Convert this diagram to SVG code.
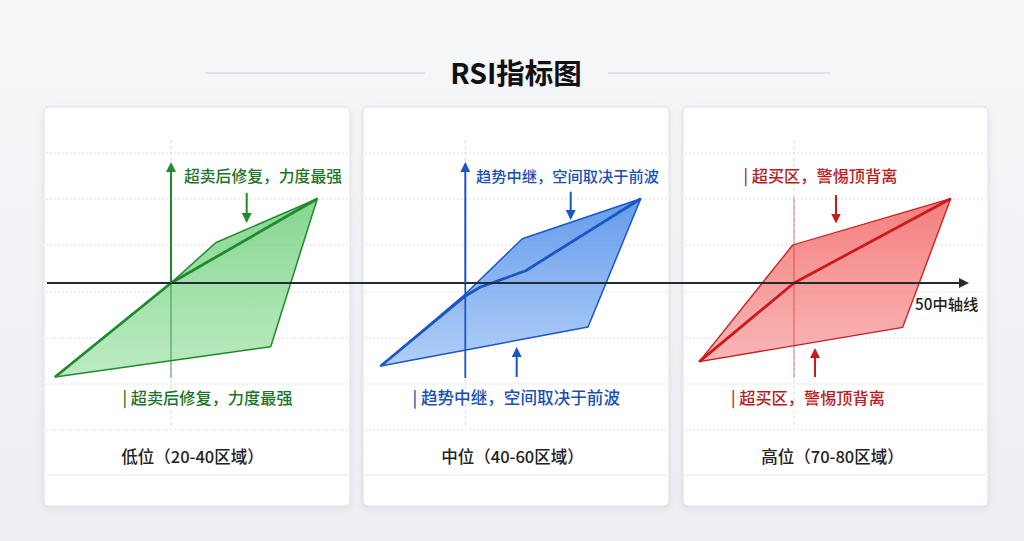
<svg xmlns="http://www.w3.org/2000/svg" width="1024" height="541" viewBox="0 0 1024 541">
<defs>
<style>
text{font-family:"Noto Sans CJK SC","Liberation Sans",sans-serif;}
.panel{fill:#fff;stroke:#dde1e6;stroke-width:1;}
.grid{stroke:#dcdfe3;stroke-width:1;stroke-dasharray:2 2;}
.sep{stroke:#e2e5e9;stroke-width:1.2;}
.vgray{stroke:#d4d7db;stroke-width:1;stroke-dasharray:3 3;}
.lbl{font-size:16.2px;font-weight:500;}
.foot{font-size:16.5px;fill:#222;font-weight:500;}
.g{fill:#1b7428;} .b{fill:#1a4fb3;} .r{fill:#b81a1a;}
</style>
<linearGradient id="bg" x1="0" y1="0" x2="0" y2="1">
<stop offset="0" stop-color="#f6f7f9"/><stop offset="1" stop-color="#eceef2"/>
</linearGradient>
<linearGradient id="fg" x1="0" y1="0" x2="0" y2="1">
<stop offset="0" stop-color="#6fcf7c" stop-opacity="0.85"/><stop offset="1" stop-color="#a6e4ad" stop-opacity="0.75"/>
</linearGradient>
<linearGradient id="fb" x1="0" y1="0" x2="0" y2="1">
<stop offset="0" stop-color="#4a8ae8" stop-opacity="0.85"/><stop offset="1" stop-color="#9cc2f4" stop-opacity="0.8"/>
</linearGradient>
<linearGradient id="fr" x1="0" y1="0" x2="0" y2="1">
<stop offset="0" stop-color="#f26868" stop-opacity="0.85"/><stop offset="1" stop-color="#f8a4a4" stop-opacity="0.8"/>
</linearGradient>
<filter id="sh" x="-10%" y="-10%" width="120%" height="120%">
<feDropShadow dx="0" dy="2" stdDeviation="3" flood-color="#8a94a6" flood-opacity="0.18"/>
</filter>
<marker id="mk" markerWidth="10" markerHeight="10" refX="8" refY="5" orient="auto" markerUnits="userSpaceOnUse"><path d="M0,0 L10,5 L0,10 z" fill="#222a33"/></marker>
<marker id="mg" markerWidth="10" markerHeight="10" refX="8" refY="5" orient="auto" markerUnits="userSpaceOnUse"><path d="M0,0 L10,5 L0,10 z" fill="#1f8a2e"/></marker>
<marker id="mb" markerWidth="10" markerHeight="10" refX="8" refY="5" orient="auto" markerUnits="userSpaceOnUse"><path d="M0,0 L10,5 L0,10 z" fill="#1a56c4"/></marker>
<marker id="mr" markerWidth="10" markerHeight="10" refX="8" refY="5" orient="auto" markerUnits="userSpaceOnUse"><path d="M0,0 L10,5 L0,10 z" fill="#c81c1c"/></marker>
</defs>
<rect width="1024" height="541" fill="url(#bg)"/>
<g id="title">
<line x1="205" y1="73" x2="425" y2="73" stroke="#c9cdd3" stroke-width="1.2"/>
<line x1="608" y1="73" x2="830" y2="73" stroke="#c9cdd3" stroke-width="1.2"/>
<text x="516" y="83.5" text-anchor="middle" font-size="28.5" font-weight="700" fill="#111">RSI指标图</text>
</g>
<g id="panel-low">
<rect class="panel" x="44" y="107" width="306" height="399" rx="5" filter="url(#sh)"/>
<g class="grid-lines">
<line class="grid" x1="46" y1="153" x2="348" y2="153"/><line class="grid" x1="46" y1="199" x2="348" y2="199"/><line class="grid" x1="46" y1="245" x2="348" y2="245"/><line class="grid" x1="46" y1="292" x2="348" y2="292"/><line class="grid" x1="46" y1="338" x2="348" y2="338"/><line class="grid" x1="46" y1="384" x2="348" y2="384"/><line class="grid" x1="46" y1="430" x2="348" y2="430"/>
</g>
<line class="sep" x1="46" y1="475" x2="348" y2="475"/>
<line class="vgray" x1="171" y1="140" x2="171" y2="428"/>
<polygon points="55,377 171,283 215.7,242.7 317.3,198.7 270.7,346.7" fill="url(#fg)" stroke="#1f8a2e" stroke-width="1.5" stroke-linejoin="round"/>
<line x1="171" y1="283" x2="171" y2="378" stroke="#1f8a2e" stroke-width="1.5" opacity="0.55"/>
<polyline points="55,377 171,283 317.3,198.7" fill="none" stroke="#1f8a2e" stroke-width="2.8" stroke-linejoin="round"/>
<text class="lbl g" x="184" y="181.5" style="font-size:15.8px">超卖后修复，力度最强</text>
<text class="lbl g" x="122.5" y="403.5">| 超卖后修复，力度最强</text>
<text class="foot" x="192.5" y="462.5" text-anchor="middle">低位（20-40区域）</text>
</g>
<g id="panel-mid">
<rect class="panel" x="363" y="107" width="306" height="399" rx="5" filter="url(#sh)"/>
<g class="grid-lines">
<line class="grid" x1="365" y1="153" x2="667" y2="153"/><line class="grid" x1="365" y1="199" x2="667" y2="199"/><line class="grid" x1="365" y1="245" x2="667" y2="245"/><line class="grid" x1="365" y1="292" x2="667" y2="292"/><line class="grid" x1="365" y1="338" x2="667" y2="338"/><line class="grid" x1="365" y1="384" x2="667" y2="384"/><line class="grid" x1="365" y1="430" x2="667" y2="430"/>
</g>
<line class="sep" x1="365" y1="475" x2="667" y2="475"/>
<line class="vgray" x1="465.3" y1="140" x2="465.3" y2="428"/>
<polygon points="380.7,366 465.3,294 522.3,238.7 640.7,198.7 588,327" fill="url(#fb)" stroke="#1a56c4" stroke-width="1.5" stroke-linejoin="round"/>
<line x1="465.3" y1="283" x2="465.3" y2="378" stroke="#1a56c4" stroke-width="1.8"/>
<polyline points="380.7,366 465.3,296 480,287.3 525.7,270.7 640.7,198.7" fill="none" stroke="#1a56c4" stroke-width="2.8" stroke-linejoin="round"/>
<text class="lbl b" x="476" y="181.5" style="font-size:15.25px">趋势中继，空间取决于前波</text>
<text class="lbl b" x="412.5" y="403.5" style="font-size:16.6px">| 趋势中继，空间取决于前波</text>
<text class="foot" x="512.5" y="462.5" text-anchor="middle">中位（40-60区域）</text>
</g>
<g id="panel-high">
<rect class="panel" x="683" y="107" width="305" height="399" rx="5" filter="url(#sh)"/>
<g class="grid-lines">
<line class="grid" x1="685" y1="153" x2="986" y2="153"/><line class="grid" x1="685" y1="199" x2="986" y2="199"/><line class="grid" x1="685" y1="245" x2="986" y2="245"/><line class="grid" x1="685" y1="292" x2="986" y2="292"/><line class="grid" x1="685" y1="338" x2="986" y2="338"/><line class="grid" x1="685" y1="384" x2="986" y2="384"/><line class="grid" x1="685" y1="430" x2="986" y2="430"/>
</g>
<line class="sep" x1="685" y1="475" x2="986" y2="475"/>
<line class="vgray" x1="794" y1="140" x2="794" y2="428"/>
<polygon points="699.3,361.7 792.7,245 950.7,198.7 902.7,327.3" fill="url(#fr)" stroke="#c81c1c" stroke-width="1.3" stroke-linejoin="round"/>
<line x1="794" y1="197" x2="794" y2="378" stroke="#c81c1c" stroke-width="1" opacity="0.55"/>
<polyline points="699.3,361.7 794,283 950.7,198.7" fill="none" stroke="#c81c1c" stroke-width="2.8" stroke-linejoin="round"/>
<text class="lbl r" x="743.5" y="181.5">| 超买区，警惕顶背离</text>
<text class="lbl r" x="731" y="403.5">| 超买区，警惕顶背离</text>
<text class="foot" x="832.5" y="462.5" text-anchor="middle">高位（70-80区域）</text>
<text x="915" y="309.5" font-size="15.3" fill="#222" font-weight="500">50中轴线</text>
</g>
<g id="connectors" fill="none">
<line x1="47" y1="283" x2="967" y2="283" stroke="#222a33" stroke-width="1.8" marker-end="url(#mk)"/>
<line x1="171" y1="283" x2="171" y2="164" stroke="#1f8a2e" stroke-width="2" marker-end="url(#mg)"/>
<line x1="246.7" y1="193" x2="246.7" y2="221" stroke="#1f8a2e" stroke-width="2" marker-end="url(#mg)"/>
<line x1="465.3" y1="283" x2="465.3" y2="164" stroke="#1a56c4" stroke-width="2" marker-end="url(#mb)"/>
<line x1="570.7" y1="191.7" x2="570.7" y2="218" stroke="#1a56c4" stroke-width="2" marker-end="url(#mb)"/>
<line x1="516.7" y1="377" x2="516.7" y2="349" stroke="#1a56c4" stroke-width="2" marker-end="url(#mb)"/>
<line x1="836" y1="195" x2="836" y2="221.5" stroke="#c81c1c" stroke-width="2" marker-end="url(#mr)"/>
<line x1="815" y1="377" x2="815" y2="350" stroke="#c81c1c" stroke-width="2" marker-end="url(#mr)"/>
</g>
</svg>
